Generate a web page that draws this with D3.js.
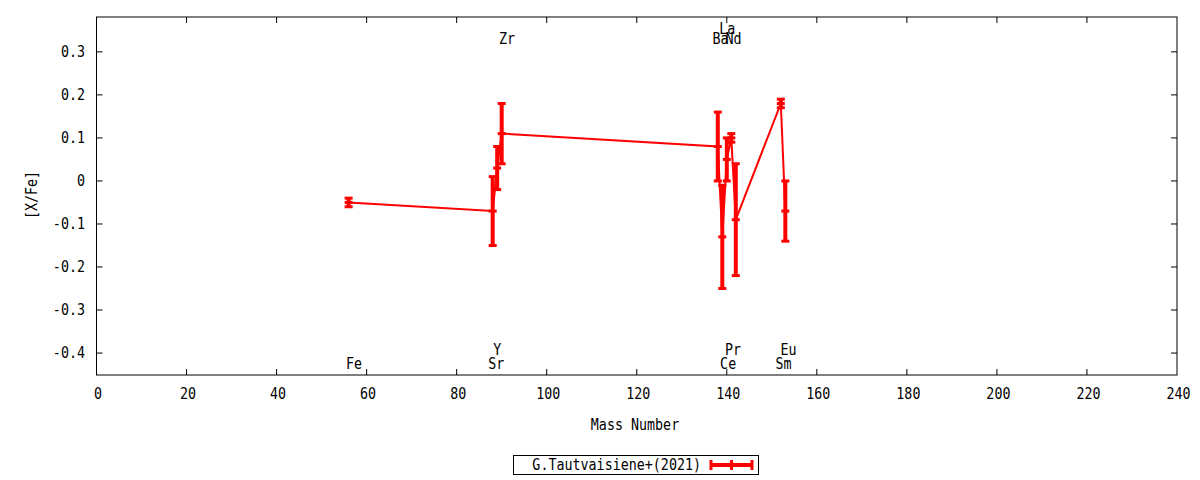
<!DOCTYPE html>
<html>
<head>
    <meta charset="utf-8">
    <script src="https://d3js.org/d3.v7.min.js"></script>
    <style>
      body { margin: 0; background: #fff; }
      text { font-family: "DejaVu Sans Mono", monospace; font-size: 15px; fill: #000; }
    </style>
</head>
<body>
<script>
  // data
  var elements = ["Fe", "Sr", "Y", "Zr", "Ba", "La", "Ce", "Pr", "Nd", "Sm", "Eu"];
  var massNumbers = [56, 88, 89, 90, 138, 139, 140, 141, 142, 152, 153];
  var abundances = [-0.05, -0.07, 0.03, 0.11, 0.08, -0.13, 0.05, 0.10, -0.09, 0.18, -0.07];
  var errors = [0.01, 0.08, 0.05, 0.07, 0.08, 0.12, 0.05, 0.01, 0.13, 0.01, 0.07];

  // element labels: x position, value position (two rows top / bottom)
  var labelNames = ["Fe", "Sr", "Y", "Zr", "Ba", "La", "Nd", "Ce", "Pr", "Sm", "Eu"];
  var labelX = [57.2, 88.8, 89.0, 91.2, 138.6, 140.1, 141.5, 140.3, 141.4, 152.6, 153.7];
  var labelY = [-0.43, -0.43, -0.397, 0.325, 0.325, 0.348, 0.325, -0.43, -0.397, -0.43, -0.397];

  var xTicks = d3.range(0, 241, 20);
  var yTicks = [-0.4, -0.3, -0.2, -0.1, 0, 0.1, 0.2, 0.3];
  var yTickText = ["-0.4", "-0.3", "-0.2", "-0.1", "0", "0.1", "0.2", "0.3"];
  var seriesName = "G.Tautvaisiene+(2021)";

  var width = 1200;
  var height = 480;
  var pl = 96.5, pr = 1177, pt = 17, pb = 375;

  var svg = d3.select("body").append("svg")
    .attr("width", width)
    .attr("height", height);

  var x = d3.scaleLinear().domain([0, 240]).range([pl, pr]);
  var y = d3.scaleLinear().domain([-0.451, 0.381]).range([pb, pt]);

  var points = massNumbers.map(function(m, i) {
    return {m: m, v: abundances[i], e: errors[i], name: elements[i]};
  });

  // narrow text like the gnuplot font
  function label(px, py, str, anchor, rot) {
    var g = svg.append("g")
      .attr("transform", "translate(" + px + "," + py + ")" + (rot ? " rotate(" + rot + ")" : "") + " scale(0.89,1)");
    g.append("text").attr("text-anchor", anchor).text(str);
  }

  // ticks (inward, mirrored)
  var tickLen = 6;
  var axes = svg.append("g").attr("stroke", "#000").attr("stroke-width", 1);
  xTicks.forEach(function(t) {
    if (t == 0 || t == 240) return;
    axes.append("line").attr("x1", x(t)).attr("x2", x(t)).attr("y1", pb).attr("y2", pb - tickLen);
    axes.append("line").attr("x1", x(t)).attr("x2", x(t)).attr("y1", pt).attr("y2", pt + tickLen);
  });
  yTicks.forEach(function(t) {
    axes.append("line").attr("x1", pl).attr("x2", pl + tickLen).attr("y1", y(t)).attr("y2", y(t));
    axes.append("line").attr("x1", pr).attr("x2", pr - tickLen).attr("y1", y(t)).attr("y2", y(t));
  });

  xTicks.forEach(function(d) { label(x(d) + 1.5, 399, d, "middle"); });
  yTicks.forEach(function(d, i) { label(85, y(d) + 5, yTickText[i], "end"); });

  label(635, 430, "Mass Number", "middle");
  label(37, 195, "[X/Fe]", "middle", -90);

  // element labels
  labelNames.forEach(function(d, i) { label(x(labelX[i]), y(labelY[i]) + 3, d, "middle"); });

  // connecting line
  var line = d3.line()
    .x(function(d) { return x(d.m); })
    .y(function(d) { return y(d.v); });

  svg.append("path")
    .datum(points)
    .attr("d", line)
    .attr("fill", "none")
    .attr("stroke", "#ff0000")
    .attr("stroke-width", 2);

  // error bars
  var capW = 4;
  var bars = svg.selectAll(".bar").data(points).enter().append("g").attr("class", "bar")
    .attr("stroke", "#ff0000");
  bars.append("line")
    .attr("x1", function(d) { return x(d.m); })
    .attr("x2", function(d) { return x(d.m); })
    .attr("y1", function(d) { return y(d.v - d.e); })
    .attr("y2", function(d) { return y(d.v + d.e); })
    .attr("stroke-width", 4);
  [-1, 0, 1].forEach(function(k) {
    bars.append("line")
      .attr("x1", function(d) { return x(d.m) - capW; })
      .attr("x2", function(d) { return x(d.m) + capW; })
      .attr("y1", function(d) { return y(d.v + k * d.e); })
      .attr("y2", function(d) { return y(d.v + k * d.e); })
      .attr("stroke-width", 3);
  });

  // frame
  svg.append("rect")
    .attr("x", pl).attr("y", pt)
    .attr("width", pr - pl).attr("height", pb - pt)
    .attr("fill", "none").attr("stroke", "#000").attr("stroke-width", 1);

  // legend
  var lg = svg.append("g");
  lg.append("rect")
    .attr("x", 513.5).attr("y", 455.5).attr("width", 245).attr("height", 19)
    .attr("fill", "none").attr("stroke", "#000").attr("stroke-width", 1);
  label(701, 470, seriesName, "end");
  lg.append("line").attr("x1", 711).attr("x2", 752).attr("y1", 465).attr("y2", 465)
    .attr("stroke", "#ff0000").attr("stroke-width", 4);
  [711, 731.5, 752].forEach(function(px) {
    lg.append("line").attr("x1", px).attr("x2", px).attr("y1", 460).attr("y2", 470)
      .attr("stroke", "#ff0000").attr("stroke-width", 3);
  });
</script>
</body>
</html>
